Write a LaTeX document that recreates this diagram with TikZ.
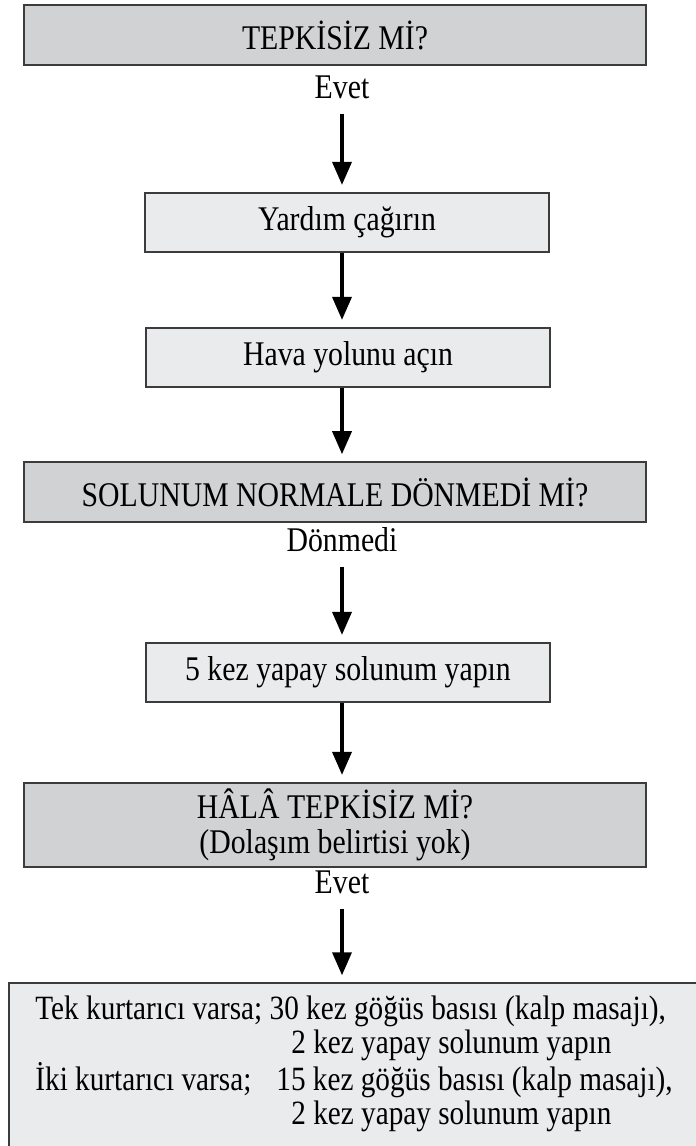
\documentclass[tikz,border=0pt]{standalone}
\usepackage{fontspec}
\setmainfont{Liberation Serif}[FakeStretch=0.86]
\usetikzlibrary{arrows.meta,positioning}
\definecolor{askgray}{HTML}{D1D2D4}
\definecolor{dogray}{HTML}{EAEBEC}
\definecolor{edgegray}{HTML}{3C3C3C}

\begin{document}
\begin{tikzpicture}[x=0.5pt,y=-0.5pt,
        question/.style={rectangle, draw=edgegray, line width=0.8pt, fill=askgray, minimum width=311pt, minimum height=30pt, align=center, inner sep=0pt, font=\fontsize{17.3}{17.5}\selectfont},
        action/.style={rectangle, draw=edgegray, line width=0.8pt, fill=dogray, minimum width=202pt, minimum height=29.5pt, align=center, inner sep=0pt, font=\fontsize{17.3}{17.5}\selectfont},
        answer/.style={inner sep=0pt, anchor=base, font=\fontsize{17.3}{17.5}\selectfont},
        cprbox/.style={rectangle, draw=edgegray, line width=0.8pt, fill=dogray, minimum width=360pt, minimum height=110pt, anchor=north west},
        cprtext/.style={inner sep=0pt, align=left, anchor=north west, font=\fontsize{17}{17}\selectfont},
        arrow/.style={line width=1.75pt, -{Triangle[length=11.5pt,width=9.5pt]}, shorten >=3.5pt}
    ]
        \useasboundingbox (0,0) rectangle (696,1146);
        \coordinate (axis) at (342,0);

        \node[question] (unresp) at (335,35) {TEPKİSİZ Mİ?};
        \node[answer] (yes1) at (342,98) {Evet};
        \node[action] (help) at (347,222.2) {Yardım çağırın};
        \node[action] (airway) at (348,357.2) {Hava yolunu açın};
        \node[question] (breath) at (335,492) {SOLUNUM NORMALE DÖNMEDİ Mİ?};
        \node[answer] (notyet) at (342,551) {Dönmedi};
        \node[action] (rescue) at (348,672.2) {5 kez yapay solunum yapın};
        \node[question, minimum height=42pt] (still) at (335,824.7) {HÂLÂ TEPKİSİZ Mİ?\\(Dolaşım belirtisi yok)};
        \node[answer] (yes2) at (342,893) {Evet};
        \node[cprbox] (cpr) at (8.3,982.3) {};
        \node[cprtext] (cprlines) at (35,995) {Tek kurtarıcı varsa; 30 kez göğüs basısı (kalp masajı),\\
            \hspace*{128pt}2 kez yapay solunum yapın\\
            \makebox[120.5pt][l]{İki kurtarıcı varsa;}15 kez göğüs basısı (kalp masajı),\\
            \hspace*{128pt}2 kez yapay solunum yapın};

        \draw[arrow, shorten <=7.5pt] (yes1.south) -- (yes1.south |- help.north);
        \draw[arrow] (help.south -| axis) -- (airway.north -| axis);
        \draw[arrow] (airway.south -| axis) -- (breath.north -| axis);
        \draw[arrow, shorten <=7.5pt] (notyet.south) -- (notyet.south |- rescue.north);
        \draw[arrow] (rescue.south -| axis) -- (still.north -| axis);
        \draw[arrow, shorten <=7.5pt] (yes2.south) -- (yes2.south |- cpr.north);
    \end{tikzpicture}
\end{document}
